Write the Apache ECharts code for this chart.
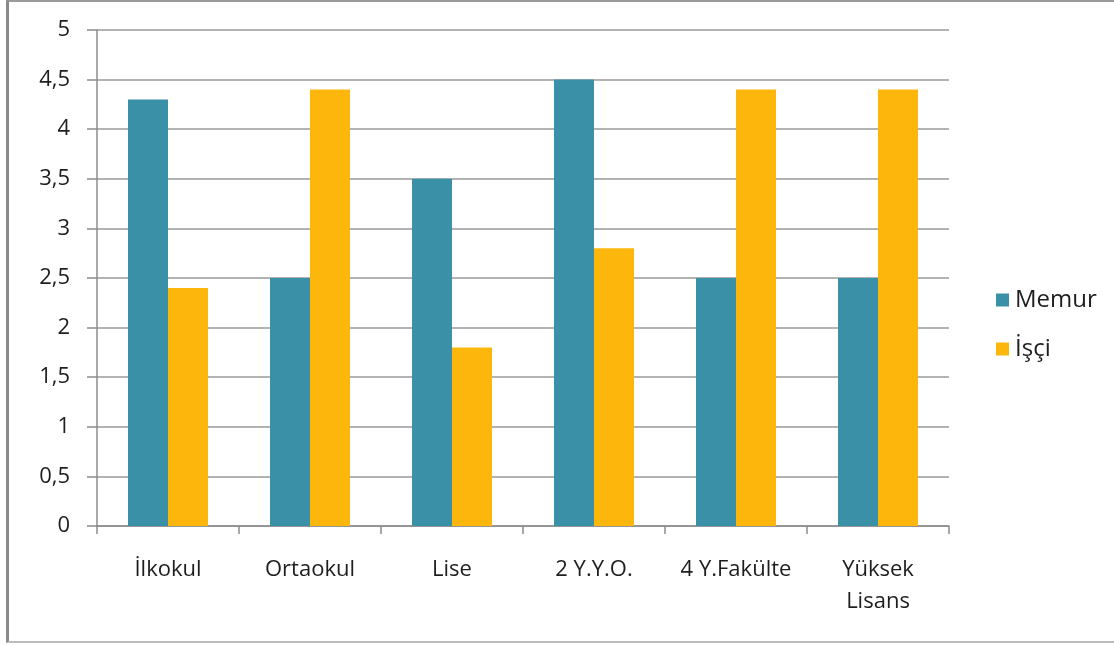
<!DOCTYPE html>
<html>
<head>
<meta charset="utf-8">
<script src="https://cdn.jsdelivr.net/npm/echarts@6/dist/echarts.min.js"></script>
<style>
html,body{margin:0;padding:0;background:#fff;}
#frame{position:absolute;left:6px;top:0;width:1108px;height:643px;border-left:3px solid #8a8a8a;border-top:2px solid #9a9a9a;border-bottom:2px solid #bdbdbd;box-sizing:border-box;}
#chart{position:absolute;left:0;top:0;width:1114px;height:646px;}
</style>
</head>
<body>
<div id="frame"></div>
<div id="chart"></div>
<script>
const categories = ['İlkokul', 'Ortaokul', 'Lise', '2 Y.Y.O.', '4 Y.Fakülte', 'Yüksek\nLisans'];
const memur = [4.3, 2.5, 3.5, 4.5, 2.5, 2.5];
const isci = [2.4, 4.4, 1.8, 2.8, 4.4, 4.4];
const seriesNames = ['Memur', 'İşçi'];

const chart = echarts.init(document.getElementById('chart'));
const font = 'Open Sans';
chart.setOption({
  animation: false,
  backgroundColor: 'transparent',
  grid: {left: 97, right: 165, top: 30, bottom: 120, containLabel: false},
  legend: {
    orient: 'vertical', left: 991, top: 283,
    itemWidth: 13, itemHeight: 13, itemGap: 25, icon: 'rect',
    textStyle: {fontFamily: font, fontSize: 24, color: '#1e1e1e', padding: [0, 0, 0, 1]},
    data: seriesNames
  },
  xAxis: {
    type: 'category', data: categories,
    axisLine: {lineStyle: {color: '#8c8c8c', width: 1.5}},
    axisTick: {show: true, length: 8, lineStyle: {color: '#8c8c8c', width: 1.5}},
    axisLabel: {fontFamily: font, fontSize: 22, color: '#1e1e1e', margin: 28, lineHeight: 32, interval: 0},
    splitLine: {show: false}
  },
  yAxis: {
    type: 'value', min: 0, max: 5, interval: 0.5,
    axisLine: {show: true, lineStyle: {color: '#8c8c8c', width: 1.5}},
    axisTick: {show: true, length: 10, lineStyle: {color: '#8c8c8c', width: 1.5}},
    axisLabel: {fontFamily: font, fontSize: 22, color: '#1e1e1e', margin: 27,
      formatter: v => String(v).replace('.', ',')},
    splitLine: {lineStyle: {color: '#9a9a9a', width: 1.5}}
  },
  series: [
    {name: seriesNames[0], type: 'bar', data: memur, barWidth: 40, barGap: '0%', itemStyle: {color: '#3a90a7'}},
    {name: seriesNames[1], type: 'bar', data: isci, barWidth: 40, barGap: '0%', itemStyle: {color: '#fdb70c'}}
  ]
});
</script>
</body>
</html>
